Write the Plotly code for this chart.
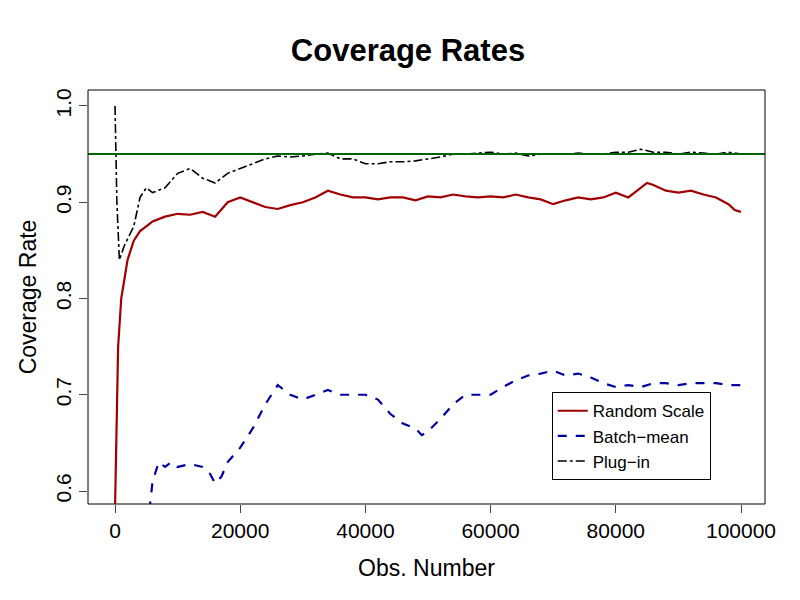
import plotly.graph_objects as go

rs_x = [0,500,1000,2000,3000,4000,5000,6000,8000,10000,12000,14000,16000,18000,20000,22000,24000,26000,28000,30000,32000,34000,36000,38000,40000,42000,44000,46000,48000,50000,52000,54000,56000,58000,60000,62000,64000,66000,68000,70000,72000,74000,76000,78000,80000,82000,84000,85000,86000,88000,90000,92000,94000,96000,98000,99000,100000]
rs_y = [0.58,0.75,0.80,0.84,0.86,0.87,0.875,0.88,0.885,0.888,0.887,0.89,0.885,0.90,0.905,0.90,0.895,0.893,0.897,0.90,0.905,0.912,0.908,0.905,0.905,0.903,0.905,0.905,0.902,0.906,0.905,0.908,0.906,0.905,0.906,0.905,0.908,0.905,0.903,0.898,0.902,0.905,0.903,0.905,0.91,0.905,0.915,0.92,0.918,0.912,0.91,0.912,0.908,0.905,0.898,0.892,0.89]

bm_x = [5500,6000,7000,8000,9000,10000,12000,14000,15000,16000,17000,18000,20000,22000,24000,26000,28000,30000,32000,34000,36000,38000,40000,42000,44000,46000,48000,49000,50000,52000,54000,56000,58000,60000,62000,64000,66000,68000,70000,72000,74000,76000,78000,80000,82000,84000,86000,88000,90000,92000,94000,96000,98000,100000]
bm_y = [0.58,0.61,0.63,0.625,0.63,0.625,0.628,0.625,0.62,0.608,0.615,0.63,0.645,0.665,0.69,0.71,0.70,0.695,0.70,0.705,0.70,0.70,0.70,0.695,0.68,0.67,0.665,0.658,0.662,0.675,0.69,0.70,0.70,0.70,0.708,0.715,0.72,0.722,0.725,0.72,0.722,0.718,0.712,0.708,0.71,0.708,0.712,0.712,0.71,0.712,0.712,0.712,0.71,0.71]

pi_x = [0,300,700,1500,3000,4000,5000,6000,8000,10000,12000,14000,16000,18000,20000,22000,24000,26000,28000,30000,32000,34000,36000,38000,40000,42000,44000,46000,48000,50000,52000,54000,56000,58000,60000,62000,64000,66000,68000,70000,72000,74000,76000,78000,80000,82000,84000,86000,88000,90000,92000,94000,96000,98000,100000]
pi_y = [1.0,0.9,0.84,0.855,0.875,0.905,0.915,0.91,0.915,0.93,0.935,0.925,0.92,0.93,0.935,0.94,0.945,0.948,0.947,0.948,0.95,0.951,0.945,0.945,0.94,0.94,0.942,0.942,0.943,0.945,0.947,0.95,0.95,0.951,0.952,0.95,0.951,0.948,0.95,0.95,0.95,0.951,0.95,0.95,0.952,0.952,0.955,0.952,0.952,0.95,0.952,0.951,0.95,0.952,0.95]

target = 0.95
x_ticks = [0,20000,40000,60000,80000,100000]
x_labels = ["0","20000","40000","60000","80000","100000"]
y_ticks = [0.6,0.7,0.8,0.9,1.0]
y_labels = ["0.6","0.7","0.8","0.9","1.0"]

fig = go.Figure()
fig.add_trace(go.Scatter(x=rs_x, y=rs_y, mode="lines", name="Random Scale", line=dict(color="#a00000", width=2.2)))
fig.add_trace(go.Scatter(x=bm_x, y=bm_y, mode="lines", name="Batch\u2212mean", line=dict(color="#0000a0", width=2.2, dash="dash")))
fig.add_trace(go.Scatter(x=pi_x, y=pi_y, mode="lines", name="Plug\u2212in", line=dict(color="black", width=1.6, dash="dashdot")))
fig.add_hline(y=target, line=dict(color="#006400", width=2))
fig.add_shape(type="rect", xref="paper", yref="paper", x0=0, y0=0, x1=1, y1=1, line=dict(color="black", width=1))

fig.update_layout(
    width=800, height=600, plot_bgcolor="white", paper_bgcolor="white",
    margin=dict(l=80, r=43, t=82, b=104, autoexpand=False),
    font=dict(family="Liberation Sans, Arial", color="black", size=21),
    title=dict(text="<b>Coverage Rates</b>", x=0.5, xanchor="center", y=0.93, yanchor="middle", font=dict(size=31)),
    xaxis=dict(range=[-4313, 103834], tickvals=x_ticks, ticktext=x_labels, ticks="outside", ticklen=8, showgrid=False,
               zeroline=False, automargin=False, tickfont=dict(size=21),
               title=dict(text="Obs. Number", font=dict(size=23), standoff=18)),
    yaxis=dict(range=[0.5865, 1.0166], tickvals=y_ticks, ticktext=y_labels, tickangle=-90, ticks="outside", ticklen=8,
               showgrid=False, zeroline=False, automargin=False, tickfont=dict(size=21),
               title=dict(text="Coverage Rate", font=dict(size=23), standoff=8)),
    legend=dict(x=0.685, y=0.27, xanchor="left", yanchor="top", bgcolor="white", bordercolor="black", borderwidth=1,
                font=dict(size=17)),
)
fig.write_html("out.html")
